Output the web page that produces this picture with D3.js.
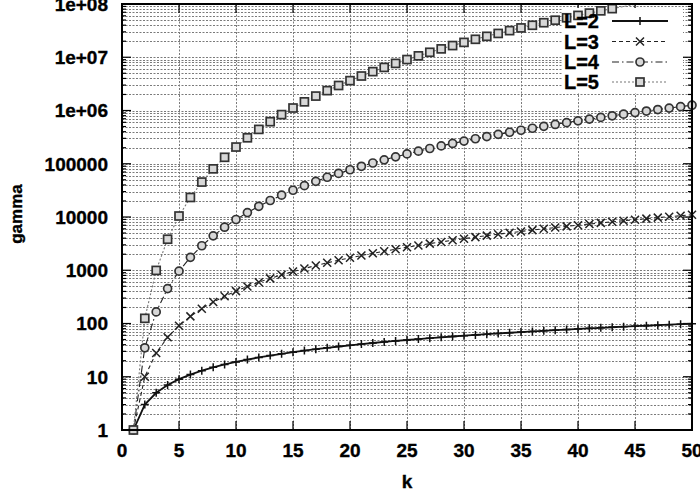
<!DOCTYPE html>
<html>
<head>
<meta charset="utf-8">
<script src="https://cdn.jsdelivr.net/npm/d3@7"></script>
<style>
  body { margin: 0; background: #fff; }
  svg { display: block; font-family: "Liberation Sans", Arial, sans-serif; font-weight: bold; }
  text { stroke: #000; stroke-width: 0.35px; }
</style>
</head>
<body>
<svg id="chart" width="700" height="494"></svg>
<script>
// values (k = 1..50)
const kValues = d3.range(1, 51);
const gammaL2 = [1,3,5,7,9,11,13,15,17,19,21,23,25,27,29,31,33,35,37,39,41,43,45,47,49,51,53,55,57,59,61,63,65,67,69,71,73,75,77,79,81,83,85,87,89,91,93,95,97,99];
const gammaL3 = [1,10,28,55,91,136,190,253,325,406,496,595,703,820,946,1081,1225,1378,1540,1711,1891,2080,2278,2485,2701,2926,3160,3403,3655,3916,4186,4465,4753,5050,5356,5671,5995,6328,6670,7021,7381,7750,8128,8515,8911,9316,9730,10150,10590,11030];
const gammaL4 = [1,35,165,453,961,1750,2885,4425,6430,8970,12100,15900,20400,25700,31800,38800,46800,55800,65900,77100,89600,103300,118400,134900,152800,172300,193300,216000,240400,266500,294500,324400,356200,390100,426000,464100,504400,546900,591800,639100,688800,741000,795800,853300,913400,976400,1042000,1111000,1182000,1257000];
const gammaL5 = [1,125,993,3825,10440,23260,45300,80200,132100,206000,307100,441600,616000,837600,1114000,1454000,1866000,2361000,2948000,3637000,4442000,5372000,6442000,7665000,9053000,10620000,12390000,14360000,16570000,19010000,21720000,24710000,28000000,31610000,35550000,39850000,44530000,49610000,55110000,61060000,67470000,74380000,81810000,89780000,98320000,107500000,117300000,127800000,139000000,150900000];

const seriesNames = ['L=2', 'L=3', 'L=4', 'L=5'];
const seriesValues = [gammaL2, gammaL3, gammaL4, gammaL5];

const xTicks = [0, 5, 10, 15, 20, 25, 30, 35, 40, 45, 50];
const yTicks = [1, 10, 100, 1000, 10000, 100000, 1e6, 1e7, 1e8];
const yTickLabels = ['1', '10', '100', '1000', '10000', '100000', '1e+06', '1e+07', '1e+08'];

const styles = [
	{dash: null,        color: '#111', width: 1.8, marker: 'plus'},
	{dash: '4,3',       color: '#222', width: 1.1, marker: 'cross'},
	{dash: '7,3,1.5,3', color: '#222', width: 1.1, marker: 'circle'},
	{dash: '2,2',       color: '#777', width: 1.1, marker: 'square'},
];

const margin = {left: 122, right: 8, top: 4, bottom: 64};
const width = 700, height = 494;
const plotW = width - margin.left - margin.right,
	  plotH = height - margin.top - margin.bottom;

const svg = d3.select('#chart');

const x = d3.scaleLinear().domain([0, 50]).range([margin.left, margin.left + plotW]);
const y = d3.scaleLog().domain([1, 1e8]).range([margin.top + plotH, margin.top]);

svg.append('defs').append('clipPath').attr('id', 'plotClip')
	.append('rect')
	.attr('x', margin.left).attr('y', margin.top)
	.attr('width', plotW).attr('height', plotH);

// grid: every minor log tick horizontally, every 5 vertically
let minorY = [];
for (let e = 0; e < 8; e++) {
	for (let m = 1; m <= 9; m++) minorY.push(m * Math.pow(10, e));
}
minorY.push(1e8);

const grid = svg.append('g').attr('stroke', '#7a7a7a').attr('stroke-width', 1).attr('stroke-dasharray', '2,1.5');
grid.selectAll('line.h').data(minorY.filter(v => v > 1 && v < 1e8)).enter().append('line')
	.attr('class', 'h')
	.attr('x1', margin.left).attr('x2', margin.left + plotW)
	.attr('y1', d => Math.round(y(d)) + 0.5).attr('y2', d => Math.round(y(d)) + 0.5);
grid.selectAll('line.v').data(xTicks.slice(1, -1)).enter().append('line')
	.attr('class', 'v')
	.attr('y1', margin.top).attr('y2', margin.top + plotH)
	.attr('x1', d => Math.round(x(d)) + 0.5).attr('x2', d => Math.round(x(d)) + 0.5);

// ticks (inside, mirrored on right / top)
const tickG = svg.append('g').attr('stroke', '#000').attr('stroke-width', 1.2);
minorY.forEach(function (v) {
	const isMajor = yTicks.indexOf(v) >= 0;
	const len = isMajor ? 9 : 4;
	const yy = y(v);
	tickG.append('line').attr('x1', margin.left).attr('x2', margin.left + len).attr('y1', yy).attr('y2', yy);
	tickG.append('line').attr('x1', margin.left + plotW - len).attr('x2', margin.left + plotW).attr('y1', yy).attr('y2', yy);
});
xTicks.forEach(function (v) {
	const xx = x(v);
	tickG.append('line').attr('x1', xx).attr('x2', xx).attr('y1', margin.top + plotH).attr('y2', margin.top + plotH - 9);
	tickG.append('line').attr('x1', xx).attr('x2', xx).attr('y1', margin.top).attr('y2', margin.top + 9);
});

// legend background sits under the data
const legend = {x0: 562, x1: 683, y0: 8, y1: 93, textX: 599, lineX0: 612, lineX1: 668, rowY: [21, 41.5, 62, 82]};
svg.append('rect')
	.attr('x', legend.x0).attr('y', legend.y0)
	.attr('width', legend.x1 - legend.x0).attr('height', legend.y1 - legend.y0)
	.attr('fill', '#fff');

function drawMarker(g, type, cx, cy, color) {
	const s = 4;
	if (type === 'plus') {
		g.append('path').attr('d', `M${cx - s},${cy}H${cx + s}M${cx},${cy - s}V${cy + s}`)
			.attr('stroke', color).attr('stroke-width', 1.5).attr('fill', 'none');
	} else if (type === 'cross') {
		g.append('path').attr('d', `M${cx - s},${cy - s}L${cx + s},${cy + s}M${cx - s},${cy + s}L${cx + s},${cy - s}`)
			.attr('stroke', color).attr('stroke-width', 1.5).attr('fill', 'none');
	} else if (type === 'circle') {
		g.append('circle').attr('cx', cx).attr('cy', cy).attr('r', s)
			.attr('stroke', '#333').attr('stroke-width', 1.7).attr('fill', '#d8d8d8');
	} else {
		g.append('rect').attr('x', cx - s).attr('y', cy - s).attr('width', 2 * s).attr('height', 2 * s)
			.attr('stroke', '#333').attr('stroke-width', 1.7).attr('fill', '#d8d8d8');
	}
}

const line = d3.line().x(d => x(d[0])).y(d => y(d[1]));
const dataG = svg.append('g').attr('clip-path', 'url(#plotClip)');
seriesValues.forEach(function (vals, i) {
	const st = styles[i];
	const pts = kValues.map((k, j) => [k, vals[j]]);
	dataG.append('path')
		.attr('d', line(pts))
		.attr('fill', 'none')
		.attr('stroke', st.color)
		.attr('stroke-width', st.width)
		.attr('stroke-dasharray', st.dash);
});
seriesValues.forEach(function (vals, i) {
	const st = styles[i];
	const g = svg.append('g');
	kValues.forEach(function (k, j) {
		const cy = y(vals[j]);
		// gnuplot leaves out points whose symbol would cross the border
		if (cy - 4 < margin.top) return;
		drawMarker(g, st.marker, x(k), cy, st.color);
	});
});

// frame
svg.append('rect')
	.attr('x', margin.left).attr('y', margin.top)
	.attr('width', plotW).attr('height', plotH)
	.attr('fill', 'none').attr('stroke', '#000').attr('stroke-width', 2);

// tick labels
svg.append('g').selectAll('text').data(yTicks).enter().append('text')
	.attr('x', 108).attr('y', d => y(d))
	.attr('dy', '0.36em')
	.attr('text-anchor', 'end')
	.attr('font-size', 19)
	.text((d, i) => yTickLabels[i]);

svg.append('g').selectAll('text').data(xTicks).enter().append('text')
	.attr('x', d => x(d)).attr('y', 457)
	.attr('text-anchor', 'middle')
	.attr('font-size', 19)
	.text(d => d);

svg.append('text').attr('x', 407).attr('y', 488)
	.attr('text-anchor', 'middle').attr('font-size', 19).text('k');

svg.append('text')
	.attr('transform', 'translate(22,214) rotate(-90)')
	.attr('text-anchor', 'middle').attr('font-size', 17).text('gamma');

// legend entries
seriesNames.forEach(function (name, i) {
	const st = styles[i];
	const ry = legend.rowY[i];
	svg.append('text').attr('x', legend.textX).attr('y', ry).attr('dy', '0.36em')
		.attr('text-anchor', 'end').attr('font-size', 20).text(name);
	svg.append('line')
		.attr('x1', legend.lineX0).attr('x2', legend.lineX1).attr('y1', ry).attr('y2', ry)
		.attr('stroke', st.color).attr('stroke-width', st.width).attr('stroke-dasharray', st.dash);
	drawMarker(svg.append('g'), st.marker, (legend.lineX0 + legend.lineX1) / 2, ry, st.color);
});
</script>
</body>
</html>
